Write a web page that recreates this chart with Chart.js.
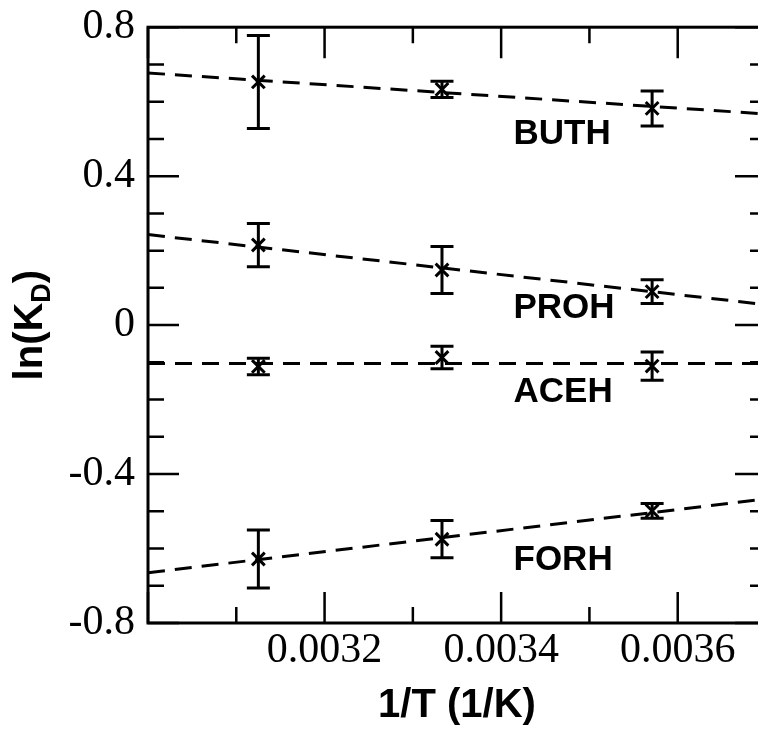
<!DOCTYPE html>
<html lang="en">
<head>
  <meta charset="UTF-8" />
  <title>ln(KD) vs 1/T</title>
  <script src="https://cdn.jsdelivr.net/npm/chart.js"></script>
  <style>
    html, body { margin: 0; padding: 0; background: #fff; overflow: hidden; }
    #wrap { position: relative; width: 790px; height: 745px; margin-top: -11px; }
  </style>
</head>
<body>
  <div id="wrap"><canvas id="chart"></canvas></div>

  <script>
    // 1/T for 320 K, 300 K, 280 K
    const invT = [0.003125, 0.003333, 0.003571];

    const buth = [0.653, 0.633, 0.582];
    const buthErr = [0.125, 0.022, 0.047];
    const proh = [0.215, 0.148, 0.090];
    const prohErr = [0.058, 0.063, 0.032];
    const aceh = [-0.111, -0.087, -0.110];
    const acehErr = [0.022, 0.030, 0.038];
    const forh = [-0.628, -0.575, -0.499];
    const forhErr = [0.078, 0.050, 0.020];

    // dashed fits, values at the two ends of the x range
    const fitX = [0.0030, 0.0037];
    const buthFit = [0.677, 0.567];
    const prohFit = [0.243, 0.055];
    const acehFit = [-0.103, -0.103];
    const forhFit = [-0.665, -0.467];

    const names = ['BUTH', 'PROH', 'ACEH', 'FORH'];
    const nameX = [0.003414, 0.003414, 0.003414, 0.003414];
    const nameY = [0.515, 0.048, -0.179, -0.629];

    const xMajor = [0.0030, 0.0032, 0.0034, 0.0036];
    const xMinor = [0.0031, 0.0033, 0.0035, 0.0037];
    const yMajor = [-0.8, -0.4, 0, 0.4, 0.8];
    const yMinor = [-0.7, -0.6, -0.5, -0.3, -0.2, -0.1, 0.1, 0.2, 0.3, 0.5, 0.6, 0.7];
    const xLabelled = [0.0032, 0.0034, 0.0036];

    const series = [
      { y: buth, err: buthErr, fit: buthFit },
      { y: proh, err: prohErr, fit: prohFit },
      { y: aceh, err: acehErr, fit: acehFit },
      { y: forh, err: forhErr, fit: forhFit }
    ];

    const datasets = [];
    series.forEach(s => {
      datasets.push({
        data: fitX.map((x, i) => ({ x, y: s.fit[i] })),
        borderColor: '#000',
        borderWidth: 3,
        borderDash: [17, 10],
        pointRadius: 0,
        showLine: true,
        fill: false
      });
      datasets.push({
        data: invT.map((x, i) => ({ x, y: s.y[i] })),
        showLine: false,
        pointStyle: 'crossRot',
        pointRadius: 9,
        borderColor: '#000',
        borderWidth: 3
      });
    });

    const framePlugin = {
      id: 'frame',
      afterDatasetsDraw(chart) {
        const { ctx, chartArea: a, scales: { x, y } } = chart;
        ctx.save();
        ctx.strokeStyle = '#000';
        ctx.fillStyle = '#000';

        // error bars
        ctx.lineWidth = 3;
        series.forEach(s => {
          invT.forEach((xv, i) => {
            const px = x.getPixelForValue(xv);
            const top = y.getPixelForValue(s.y[i] + s.err[i]);
            const bot = y.getPixelForValue(s.y[i] - s.err[i]);
            ctx.beginPath();
            ctx.moveTo(px, top); ctx.lineTo(px, bot);
            ctx.moveTo(px - 11.5, top); ctx.lineTo(px + 11.5, top);
            ctx.moveTo(px - 11.5, bot); ctx.lineTo(px + 11.5, bot);
            ctx.stroke();
          });
        });

        // frame
        ctx.lineWidth = 3;
        ctx.strokeRect(a.left, a.top, a.right - a.left, a.bottom - a.top);

        // inward ticks on all sides
        ctx.lineWidth = 2.5;
        ctx.beginPath();
        const xt = (list, len) => list.forEach(v => {
          const px = x.getPixelForValue(v);
          ctx.moveTo(px, a.bottom); ctx.lineTo(px, a.bottom - len);
          ctx.moveTo(px, a.top); ctx.lineTo(px, a.top + len);
        });
        const yt = (list, len) => list.forEach(v => {
          const py = y.getPixelForValue(v);
          ctx.moveTo(a.left, py); ctx.lineTo(a.left + len, py);
          ctx.moveTo(a.right, py); ctx.lineTo(a.right - len, py);
        });
        xt(xMajor, 31); xt(xMinor, 16);
        yt(yMajor, 31); yt(yMinor, 16);
        ctx.stroke();

        // series names
        ctx.font = 'bold 35px "Liberation Sans", Arial, sans-serif';
        ctx.textAlign = 'left';
        ctx.textBaseline = 'middle';
        names.forEach((n, i) => {
          ctx.fillText(n, x.getPixelForValue(nameX[i]), y.getPixelForValue(nameY[i]) + 1);
        });

        // y axis title with subscript
        const cy = (a.top + a.bottom) / 2;
        ctx.translate(28, cy);
        ctx.rotate(-Math.PI / 2);
        const big = 'bold 40px "Liberation Sans", Arial, sans-serif';
        const small = 'bold 27px "Liberation Sans", Arial, sans-serif';
        ctx.font = big;
        const w1 = ctx.measureText('ln(K').width;
        const w3 = ctx.measureText(')').width;
        ctx.font = small;
        const w2 = ctx.measureText('D').width;
        let sx = -(w1 + w2 + w3) / 2;
        ctx.textAlign = 'left';
        ctx.textBaseline = 'alphabetic';
        ctx.font = big;
        ctx.fillText('ln(K', sx, 14);
        ctx.font = small;
        ctx.fillText('D', sx + w1, 22);
        ctx.font = big;
        ctx.fillText(')', sx + w1 + w2, 14);
        ctx.restore();
      }
    };

    new Chart(document.getElementById('chart'), {
      type: 'scatter',
      data: { datasets },
      options: {
        responsive: true,
        maintainAspectRatio: false,
        animation: false,
        events: [],
        layout: { padding: { left: 0, right: 24, top: 14, bottom: 0 } },
        plugins: { legend: { display: false }, tooltip: { enabled: false } },
        scales: {
          x: {
            type: 'linear',
            min: 0.0030,
            max: 0.0037,
            afterBuildTicks: s => { s.ticks = xMajor.map(v => ({ value: v })); },
            afterFit: s => { s.height = 111; },
            grid: { display: false, drawTicks: false },
            border: { display: false },
            ticks: {
              color: '#000',
              padding: 3,
              maxRotation: 0,
              autoSkip: false,
              font: { family: '"Liberation Serif", "Times New Roman", serif', size: 42 },
              callback: v => xLabelled.some(t => Math.abs(t - v) < 1e-9) ? v.toFixed(4) : ''
            },
            title: {
              display: true,
              text: '1/T (1/K)',
              color: '#000',
              padding: { top: 0, bottom: 4 },
              font: { family: '"Liberation Sans", Arial, sans-serif', size: 40, weight: 'bold' }
            }
          },
          y: {
            type: 'linear',
            min: -0.8,
            max: 0.8,
            afterBuildTicks: s => { s.ticks = yMajor.map(v => ({ value: v })); },
            afterFit: s => { s.width = 148; },
            grid: { display: false, drawTicks: false },
            border: { display: false },
            ticks: {
              color: '#000',
              padding: 13,
              autoSkip: false,
              font: { family: '"Liberation Serif", "Times New Roman", serif', size: 42 },
              callback: v => (Math.abs(v) < 1e-9 ? '0' : String(Math.round(v * 10) / 10))
            }
          }
        }
      },
      plugins: [framePlugin]
    });
  </script>
</body>
</html>
